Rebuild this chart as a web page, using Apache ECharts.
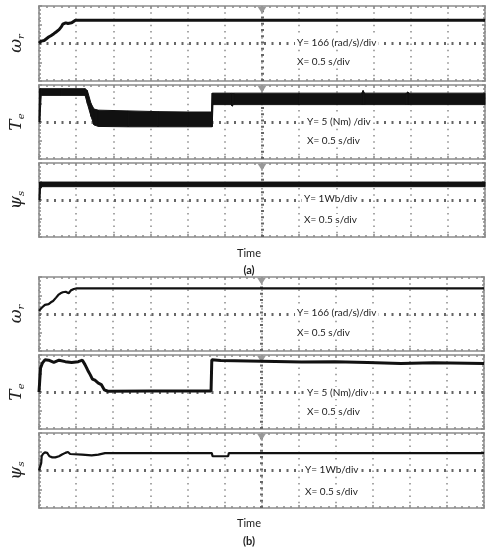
<!DOCTYPE html>
<html>
<head>
<meta charset="utf-8">
<script src="https://cdn.jsdelivr.net/npm/echarts@6/dist/echarts.min.js"></script>
<style>
  html, body { margin: 0; padding: 0; background: #fff; }
  #chart { width: 492px; height: 550px; }
</style>
</head>
<body>
<div id="chart"></div>
<script>
// time axis: 12 div x 0.5 s/div
const tMin = 0
const tMax = 6
const tStep = 0.5

// (a) rotor speed, rad/s
const wrA_t = [0, 0.03, 0.07, 0.1, 0.13, 0.16, 0.2, 0.23, 0.27, 0.3, 0.32, 0.36, 0.39, 0.41, 0.44, 0.49, 6]
const wrA_v = [3, 21, 27, 42, 57, 69, 87, 102, 123, 147, 171, 183, 177, 168, 183, 206, 206]

// (a) torque, Nm - noisy trace drawn as low/high envelope
const teA_t = [0, 0.01, 0.03, 0.3, 0.62, 0.65, 0.7, 0.74, 0.8, 1.2, 1.6, 2.0, 2.32, 2.33, 2.34, 2.58, 2.6, 2.62, 3.5, 4.34, 4.36, 4.38, 4.94, 4.96, 4.98, 6]
const teA_lo = [0, 0, 7.2, 7.2, 7.2, 5.0, 1.5, -0.8, -1.2, -1.3, -1.3, -1.3, -1.3, -1.3, 4.7, 4.7, 4.3, 4.7, 4.7, 4.7, 4.7, 4.7, 4.7, 4.7, 4.7, 4.7]
const teA_hi = [0.5, 9, 9, 9, 9, 8.5, 5, 3.5, 3.2, 3.0, 2.8, 2.7, 2.7, 7.8, 7.8, 7.8, 7.8, 7.8, 7.8, 7.8, 8.5, 7.8, 7.8, 8.1, 7.8, 7.8]

// (a) stator flux, Wb - envelope
const psA_t = [0, 0.01, 0.02, 0.04, 6]
const psA_lo = [0, 0, 0.6, 0.72, 0.72]
const psA_hi = [0.05, 0.97, 0.97, 0.97, 0.97]

// (b) rotor speed, rad/s
const wrB_t = [0, 0.04, 0.08, 0.13, 0.16, 0.19, 0.23, 0.26, 0.29, 0.32, 0.36, 0.4, 0.43, 0.47, 0.51, 6]
const wrB_v = [28, 58, 82, 88, 105, 117, 147, 171, 186, 195, 200, 186, 212, 224, 230, 230]

// (b) torque, Nm
const teB_t = [0, 0.02, 0.021, 0.045, 0.08, 0.13, 0.2, 0.27, 0.355, 0.44, 0.53, 0.585, 0.62, 0.657, 0.69, 0.72, 0.754, 0.8, 0.84, 0.88, 0.93, 1.5, 2.0, 2.32, 2.33, 2.45, 3.01, 3.54, 3.99, 4.43, 4.88, 5.32, 6]
const teB_v = [0, 0, 6.5, 7.8, 8.7, 8.6, 8.0, 8.6, 8.2, 8.0, 8.2, 8.6, 7.4, 5.9, 4.7, 3.5, 3.2, 2.4, 2.0, 0.6, 0.2, 0.3, 0.3, 0.3, 8.7, 8.5, 8.3, 8.1, 8.2, 8.0, 7.7, 7.9, 7.7]

// (b) stator flux, Wb
const psB_t = [0, 0.02, 0.03, 0.036, 0.053, 0.08, 0.11, 0.14, 0.18, 0.22, 0.27, 0.31, 0.355, 0.39, 0.42, 0.44, 0.58, 0.71, 0.8, 0.89, 1.67, 1.69, 1.71, 1.93, 1.95, 1.97, 2.33, 2.34, 2.55, 2.56, 2.75, 2.77, 2.79, 4.95, 4.97, 4.99, 6]
const psB_v = [0, 0, 0.4, 0.76, 0.88, 0.97, 0.94, 0.76, 0.70, 0.70, 0.76, 0.85, 0.94, 0.99, 0.88, 0.81, 0.85, 0.81, 0.85, 0.93, 0.93, 0.99, 0.93, 0.93, 0.99, 0.93, 0.93, 0.76, 0.76, 0.93, 0.93, 0.99, 0.93, 0.93, 0.99, 0.93, 0.93]

// per-panel scale and labels
const panels = [
  { top: 6, h: 75, left: 35, right: 7, yMax: 332, yStep: 166, name: '{m|ω}{s|r}', yText: 'Y= 166 (rad/s)/div', tx: 295, ty1: 43, ty2: 62 },
  { top: 85, h: 74, left: 35, right: 7, yMax: 10, yStep: 5, name: '{m|T}{s|e}', yText: 'Y= 5 (Nm) /div', tx: 305, ty1: 122, ty2: 141 },
  { top: 163, h: 74, left: 35, right: 7, yMax: 2, yStep: 1, name: '{m|ψ}{s|s}', yText: 'Y= 1Wb/div', tx: 302, ty1: 199, ty2: 220 },
  { top: 277, h: 74, left: 33, right: 8, yMax: 332, yStep: 166, name: '{m|ω}{s|r}', yText: 'Y= 166 (rad/s)/div', tx: 295, ty1: 313, ty2: 333 },
  { top: 355, h: 74, left: 33, right: 8, yMax: 10, yStep: 5, name: '{m|T}{s|e}', yText: 'Y= 5 (Nm)/div', tx: 305, ty1: 393, ty2: 412 },
  { top: 433, h: 75, left: 33, right: 8, yMax: 2, yStep: 1, name: '{m|ψ}{s|s}', yText: 'Y= 1Wb/div', tx: 303, ty1: 470, ty2: 492 }
]

const gridCol = '#8a8a8a'
const traceCol = '#111'

const grids = []
const xAxes = []
const yAxes = []
const series = []
const texts = []

function tickAxis(extra) {
  return Object.assign({
    type: 'value',
    axisLine: { show: false, onZero: false },
    axisLabel: { show: false },
    axisTick: { show: true, inside: true, length: 3, lineStyle: { color: gridCol, width: 1.5 } },
    minorTick: { show: true, splitNumber: 5, length: 2, lineStyle: { color: gridCol, width: 1.5 } },
    splitLine: { show: false }
  }, extra)
}

panels.forEach((p, i) => {
  grids.push({
    left: p.left, right: p.right, top: p.top, height: p.h,
    show: true, borderColor: '#a8a8a8', borderWidth: 2
  })
  xAxes.push(tickAxis({
    gridIndex: i, min: tMin, max: tMax, interval: tStep, position: 'bottom',
    splitLine: { show: true, lineStyle: { type: [1.5, 4.75], width: 1.5, color: gridCol } }
  }))
  xAxes.push(tickAxis({ gridIndex: i, min: tMin, max: tMax, interval: tStep, position: 'top' }))
  yAxes.push(tickAxis({
    gridIndex: i, min: -p.yMax, max: p.yMax, interval: p.yStep, position: 'left',
    name: p.name, nameLocation: 'middle', nameGap: 13, nameRotate: 90,
    nameTextStyle: {
      color: '#222',
      rich: {
        m: { fontFamily: 'DejaVu Serif', fontStyle: 'italic', fontSize: 17, color: '#222' },
        s: { fontFamily: 'DejaVu Serif', fontStyle: 'italic', fontSize: 10, color: '#222', padding: [9, 0, 0, 0] }
      }
    }
  }))
  yAxes.push(tickAxis({ gridIndex: i, min: -p.yMax, max: p.yMax, interval: p.yStep, position: 'right' }))

  // centre cross-hair and trigger marker
  series.push({
    type: 'line', xAxisIndex: 2 * i, yAxisIndex: 2 * i, data: [], symbol: 'none', silent: true, z: 1,
    markLine: {
      silent: true, symbol: 'none', label: { show: false },
      data: [
        { yAxis: 0, lineStyle: { type: [2, 5.5], width: 3, color: '#666' } },
        { xAxis: 3, lineStyle: { type: [2, 4.25], width: 3, color: '#666' } }
      ]
    },
    markPoint: {
      silent: true, label: { show: false },
      data: [{ coord: [3, p.yMax], symbol: 'triangle', symbolSize: [9, 7], symbolRotate: 180, symbolOffset: [0, 4], itemStyle: { color: '#999' } }]
    }
  })

  texts.push({ type: 'text', x: p.tx, y: p.ty1, z: 100, style: { text: p.yText, fontFamily: 'Lato', fontSize: 10, fill: '#222', verticalAlign: 'middle', backgroundColor: '#fff', padding: [1, 2] } })
  texts.push({ type: 'text', x: p.tx, y: p.ty2, z: 100, style: { text: 'X= 0.5 s/div', fontFamily: 'Lato', fontSize: 10, fill: '#222', verticalAlign: 'middle', backgroundColor: '#fff', padding: [1, 2] } })
})

function pairs(t, v) {
  return t.map((x, k) => [x, v[k]])
}

function lineSeries(i, t, v, w) {
  return {
    type: 'line', xAxisIndex: 2 * i, yAxisIndex: 2 * i, data: pairs(t, v),
    symbol: 'none', z: 5, lineStyle: { color: traceCol, width: w }
  }
}

// filled band between low and high envelope, one quad per segment
function bandSeries(i, t, lo, hi) {
  const segs = []
  for (let k = 0; k < t.length - 1; k++) {
    segs.push([t[k], lo[k], hi[k], t[k + 1], lo[k + 1], hi[k + 1]])
  }
  return {
    type: 'custom', xAxisIndex: 2 * i, yAxisIndex: 2 * i, data: segs, z: 5,
    encode: { x: [0, 3], y: [1, 2, 4, 5] },
    renderItem(params, api) {
      const a = api.coord([api.value(0), api.value(1)])
      const b = api.coord([api.value(3), api.value(4)])
      const c = api.coord([api.value(3), api.value(5)])
      const d = api.coord([api.value(0), api.value(2)])
      return {
        type: 'polygon',
        shape: { points: [a, b, c, d] },
        style: { fill: traceCol, stroke: traceCol, lineWidth: 1 }
      }
    }
  }
}

series.push(lineSeries(0, wrA_t, wrA_v, 3))
series.push(bandSeries(1, teA_t, teA_lo, teA_hi))
series.push(bandSeries(2, psA_t, psA_lo, psA_hi))
series.push(lineSeries(3, wrB_t, wrB_v, 2.2))
series.push(lineSeries(4, teB_t, teB_v, 3))
series.push(lineSeries(5, psB_t, psB_v, 2.2))

texts.push({ type: 'text', x: 249, y: 253, style: { text: 'Time', fontFamily: 'Lato', fontSize: 11, fill: '#222', align: 'center', verticalAlign: 'middle' } })
texts.push({ type: 'text', x: 249, y: 270, style: { text: '(a)', fontFamily: 'Lato', fontWeight: 'bold', fontSize: 11, fill: '#222', align: 'center', verticalAlign: 'middle' } })
texts.push({ type: 'text', x: 249, y: 523, style: { text: 'Time', fontFamily: 'Lato', fontSize: 11, fill: '#222', align: 'center', verticalAlign: 'middle' } })
texts.push({ type: 'text', x: 249, y: 541, style: { text: '(b)', fontFamily: 'Lato', fontWeight: 'bold', fontSize: 11, fill: '#222', align: 'center', verticalAlign: 'middle' } })

const chart = echarts.init(document.getElementById('chart'))
chart.setOption({
  animation: false,
  backgroundColor: '#fff',
  grid: grids,
  xAxis: xAxes,
  yAxis: yAxes,
  series: series,
  graphic: texts
})
</script>
</body>
</html>
